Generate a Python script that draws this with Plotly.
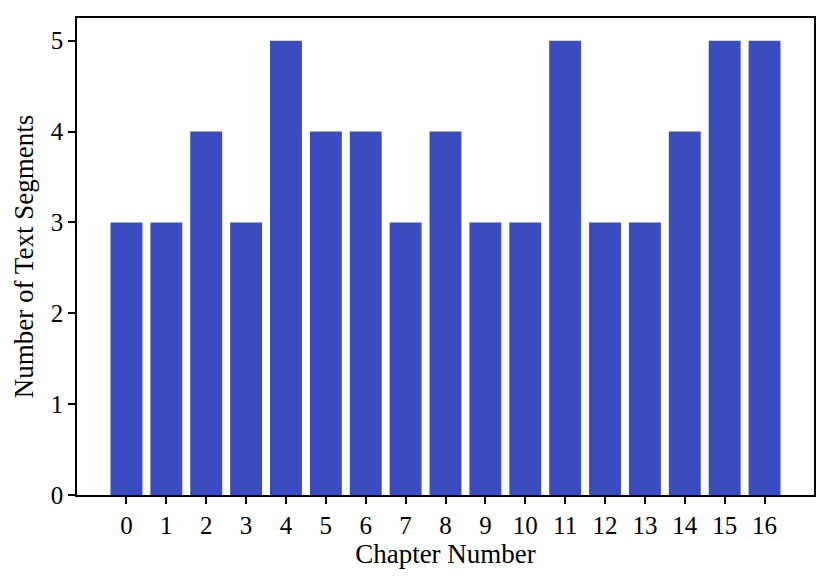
import plotly.graph_objects as go

chapters = list(range(17))
segments = [3, 3, 4, 3, 5, 4, 4, 3, 4, 3, 3, 5, 3, 3, 4, 5, 5]
x_title = "Chapter Number"
y_title = "Number of Text Segments"
bar_color = "#3b4cc0"

fig = go.Figure(
    go.Bar(
        x=chapters,
        y=segments,
        width=0.8,
        marker=dict(color=bar_color, line=dict(width=0)),
    )
)

font_family = "Liberation Serif, DejaVu Serif, serif"
axis_common = dict(
    showline=True,
    linecolor="black",
    linewidth=1.6,
    mirror=True,
    ticks="outside",
    ticklen=7,
    tickwidth=1.6,
    tickcolor="black",
    showgrid=False,
    zeroline=False,
    tickfont=dict(family=font_family, size=25, color="black"),
)

fig.update_layout(
    width=822,
    height=574,
    margin=dict(l=69, r=16, t=8, b=87),
    paper_bgcolor="white",
    plot_bgcolor="white",
    showlegend=False,
    font=dict(family=font_family, color="black"),
    xaxis=dict(
        range=[-1.24, 17.24],
        tickmode="array",
        tickvals=chapters,
        ticktext=[str(c) for c in chapters],
        title=dict(text=x_title, font=dict(family=font_family, size=27), standoff=5),
        **axis_common,
    ),
    yaxis=dict(
        range=[0, 5.25],
        tickmode="array",
        tickvals=[0, 1, 2, 3, 4, 5],
        title=dict(text=y_title, font=dict(family=font_family, size=27), standoff=9),
        **axis_common,
    ),
)

fig.write_html("out.html")
